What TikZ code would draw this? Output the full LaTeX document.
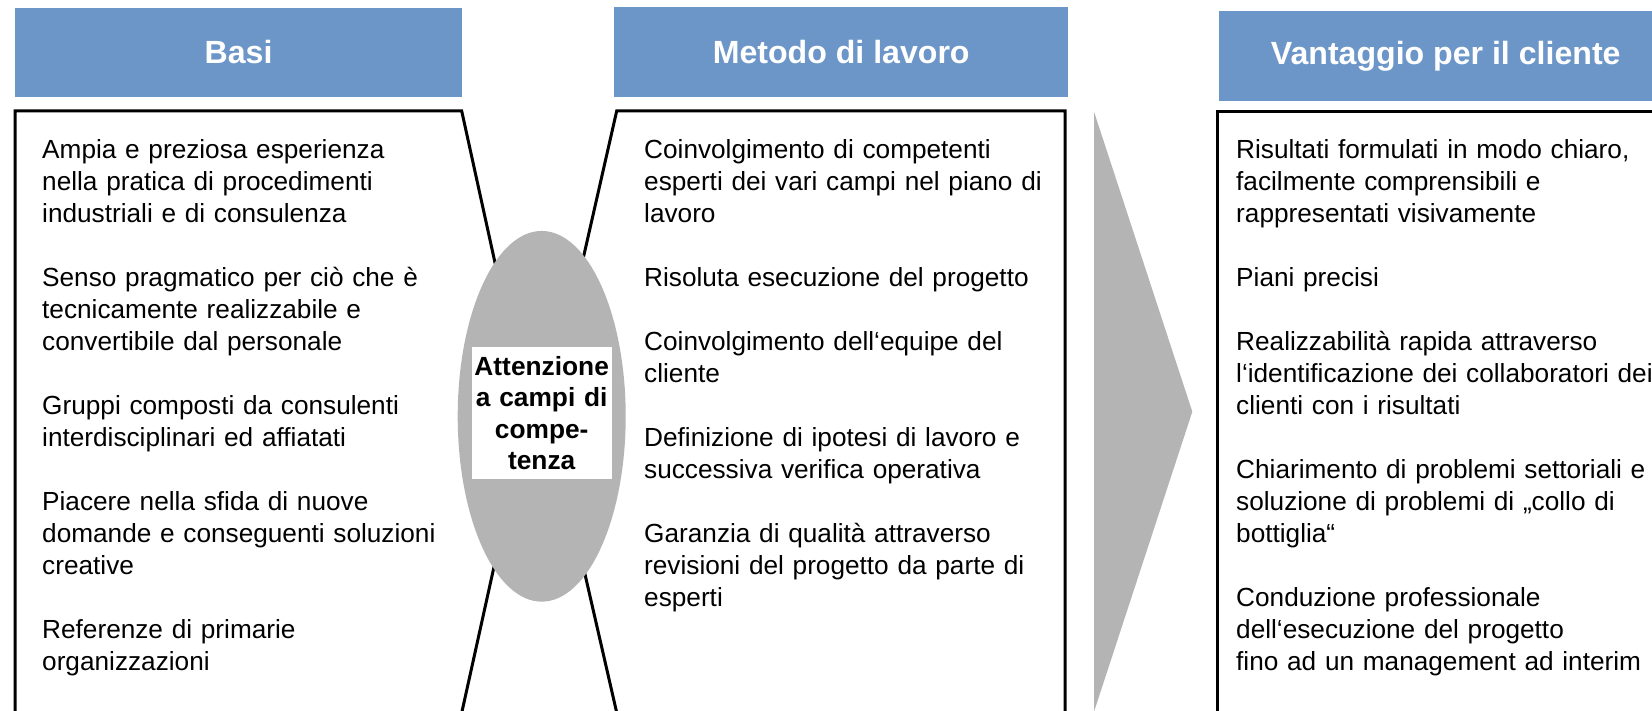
\documentclass[tikz,border=0pt]{standalone}
\usepackage{fontspec}
\setmainfont{Liberation Sans}
\usetikzlibrary{shapes.geometric}
\definecolor{hdrblue}{RGB}{108,150,200}
\definecolor{shapegray}{RGB}{180,180,180}
\begin{document}
\begin{tikzpicture}[x=1pt,y=-1pt,
  hdr/.style={fill=hdrblue, text=white, inner sep=0pt, anchor=north west,
    font=\fontsize{32.1}{36}\selectfont\bfseries},
  boxline/.style={draw=black, fill=white, line width=3pt, line join=miter},
  coltext/.style={anchor=base west, text width=470pt, align=left, inner sep=0pt,
    font=\fontsize{26.2}{32}\selectfont},
  focusbox/.style={fill=white, text width=140pt, minimum height=131.7pt, align=center,
    inner sep=0pt, font=\fontsize{26.3}{31.5}\selectfont\bfseries}]
\useasboundingbox (0,0) rectangle (1652,711);
\clip (0,0) rectangle (1652,711);
\fill[white] (0,0) rectangle (1652,711);

% headers
\node[hdr, minimum width=446.7pt, minimum height=89.6pt] (h1) at (15,7.4) {Basi};
\node[hdr, minimum width=454pt, minimum height=90pt] (h2) at (614,7.2) {Metodo di lavoro};
\node[hdr, minimum width=453pt, minimum height=90.2pt] (h3) at (1219,10.5) {Vantaggio per il cliente};

% boxes
\path[boxline] (15,740) -- (15,111) -- (461.7,111) -- (528,413) -- (455.7,740);
\path[boxline] (623,740) -- (548,413) -- (616.7,111) -- (1065,111) -- (1065,740);
\path[boxline] (1217.7,740) -- (1217.7,112) -- (1690,112) -- (1690,740);

% arrow triangle
\fill[shapegray] (1094,111.7) -- (1192.3,411.7) -- (1094,711.7) -- cycle;

% ellipse and focus text
\node[ellipse, fill=shapegray, minimum width=168pt, minimum height=370.7pt, inner sep=0pt] (ell) at (541.7,416.3) {};
\node[focusbox] (focus) at (541.7,413.2) {Attenzione\\ a campi di\\ compe-\\ tenza};

% column texts
\node[coltext] (c1) at (42,158.5) {Ampia e preziosa esperienza\\ nella pratica di procedimenti\\ industriali e di consulenza\\[32pt]
Senso pragmatico per ciò che è\\ tecnicamente realizzabile e\\ convertibile dal personale\\[32pt]
Gruppi composti da consulenti\\ interdisciplinari ed affiatati\\[32pt]
Piacere nella sfida di nuove\\ domande e conseguenti soluzioni\\ creative\\[32pt]
Referenze di primarie\\ organizzazioni};

\node[coltext] (c2) at (644,158.5) {Coinvolgimento di competenti\\ esperti dei vari campi nel piano di\\ lavoro\\[32pt]
Risoluta esecuzione del progetto\\[32pt]
Coinvolgimento dell‘equipe del\\ cliente\\[32pt]
Definizione di ipotesi di lavoro e\\ successiva verifica operativa\\[32pt]
Garanzia di qualità attraverso\\ revisioni del progetto da parte di\\ esperti};

\node[coltext] (c3) at (1236,158.5) {Risultati formulati in modo chiaro,\\ facilmente comprensibili e\\ rappresentati visivamente\\[32pt]
Piani precisi\\[32pt]
Realizzabilità rapida attraverso\\ l‘identificazione dei collaboratori dei\\ clienti con i risultati\\[32pt]
Chiarimento di problemi settoriali e\\ soluzione di problemi di „collo di\\ bottiglia“\\[32pt]
Conduzione professionale\\ dell‘esecuzione del progetto\\ fino ad un management ad interim};
\end{tikzpicture}
\end{document}
